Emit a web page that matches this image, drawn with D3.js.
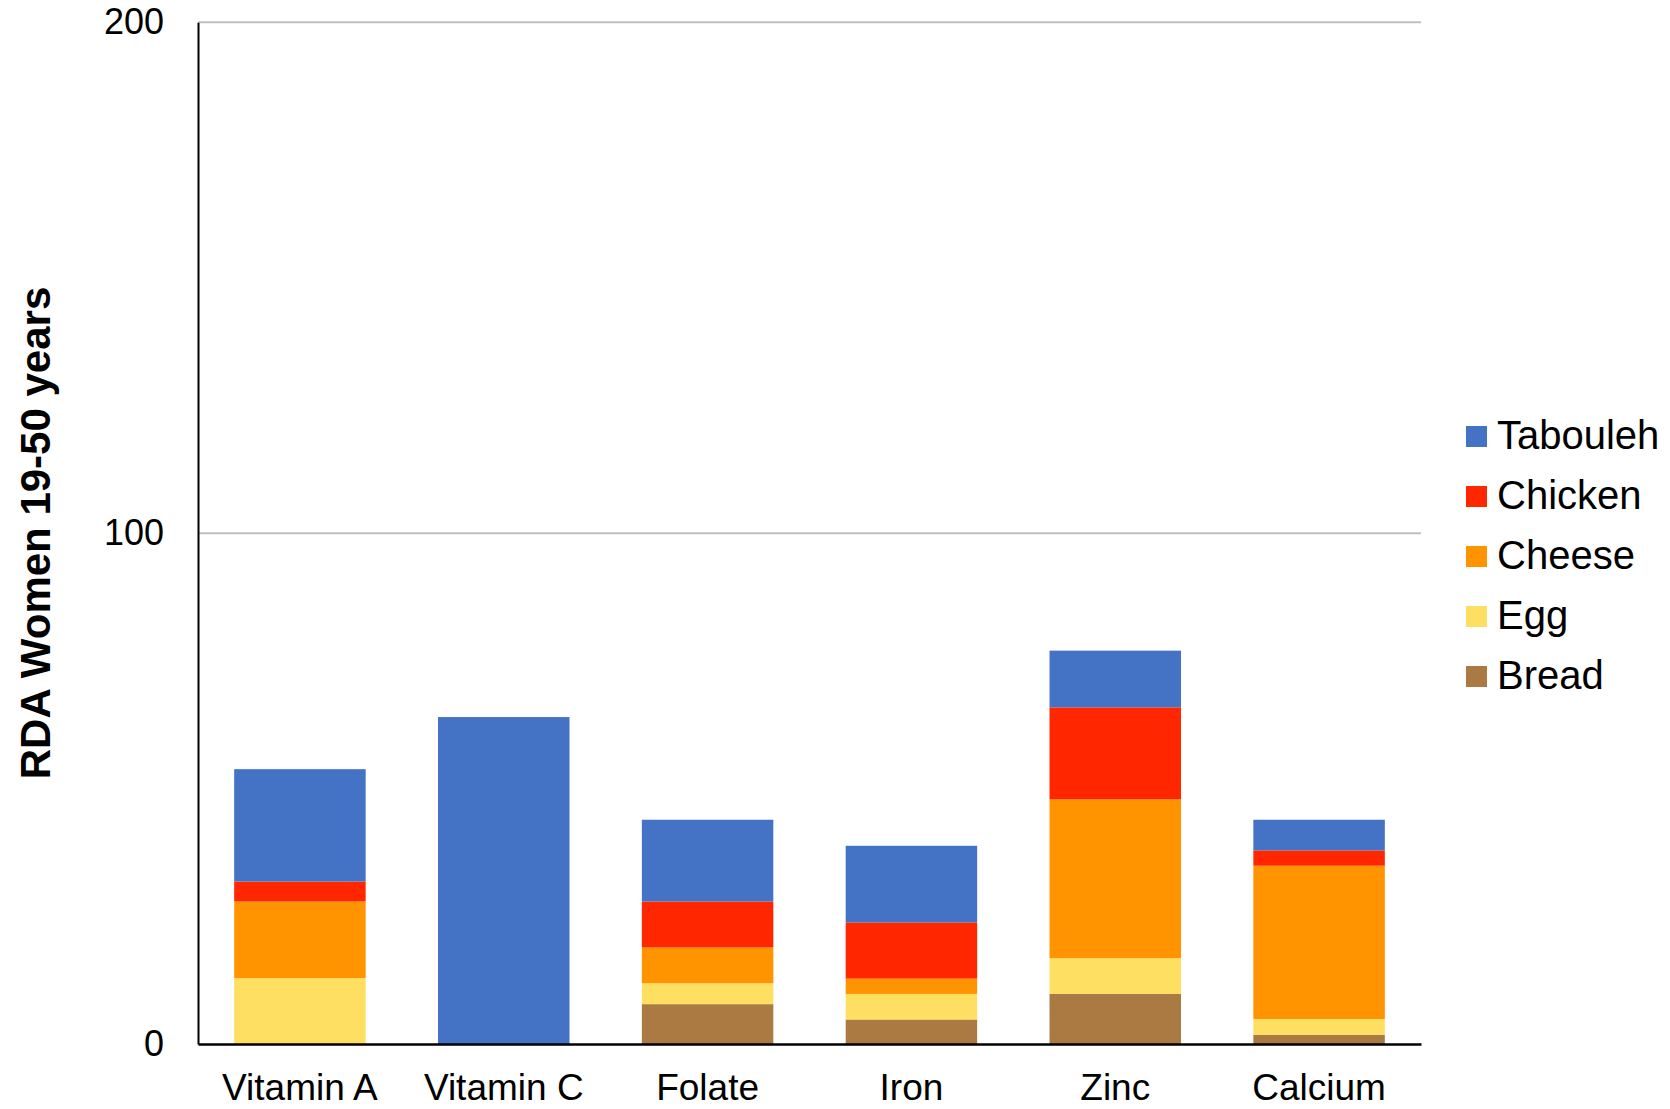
<!DOCTYPE html>
<html>
<head>
<meta charset="utf-8">
<script src="https://cdn.jsdelivr.net/npm/d3@7"></script>
<style>
  html, body { margin: 0; padding: 0; background: #fff; }
  svg { display: block; }
  text { font-family: "Liberation Sans", Arial, sans-serif; fill: #000; }
</style>
</head>
<body>
<svg id="chart" width="1670" height="1109"></svg>
<script>
// Nutrient contribution of each food, % of RDA for women aged 19-50
const categories = ["Vitamin A", "Vitamin C", "Folate", "Iron", "Zinc", "Calcium"];
const bread    = [0,    0,  7.8,  4.8,  9.8,  1.8];
const egg      = [12.9, 0,  4.1,  5.0,  7.0,  3.1];
const cheese   = [15.0, 0,  7.0,  3.0,  31.1, 30.0];
const chicken  = [3.9,  0,  9.0,  11.0, 18.0, 3.0];
const tabouleh = [22.0, 64.0, 16.0, 15.0, 11.1, 6.0];

const yTicks = [0, 100, 200];
const seriesNames = ["Bread", "Egg", "Cheese", "Chicken", "Tabouleh"];
const seriesValues = [bread, egg, cheese, chicken, tabouleh];
const legendOrder = ["Tabouleh", "Chicken", "Cheese", "Egg", "Bread"];
const colors = {
  Tabouleh: "#4472C4",
  Chicken: "#FF2600",
  Cheese: "#FF9300",
  Egg: "#FFDF61",
  Bread: "#AA7A42"
};

const rows = categories.map((c, i) => {
  const r = { category: c };
  seriesNames.forEach((s, k) => { r[s] = seriesValues[k][i]; });
  return r;
});

const svg = d3.select("#chart");
const plot = { left: 198, right: 1421, top: 22.3, bottom: 1044 };

const x = d3.scaleBand()
  .domain(categories)
  .range([plot.left, plot.right])
  .paddingInner(0.355)
  .paddingOuter(0.1775);

const y = d3.scaleLinear()
  .domain([0, 200])
  .range([plot.bottom, plot.top]);

// horizontal gridlines
svg.append("g")
  .selectAll("line")
  .data(yTicks.filter(t => t > 0))
  .join("line")
  .attr("x1", plot.left)
  .attr("x2", plot.right)
  .attr("y1", d => y(d))
  .attr("y2", d => y(d))
  .attr("stroke", "#BFBFBF")
  .attr("stroke-width", 2);

// stacked bars
const stacked = d3.stack().keys(seriesNames)(rows);
svg.append("g")
  .selectAll("g")
  .data(stacked)
  .join("g")
  .attr("fill", d => colors[d.key])
  .selectAll("rect")
  .data(d => d.filter(p => p[1] - p[0] > 0))
  .join("rect")
  .attr("x", d => x(d.data.category))
  .attr("width", x.bandwidth())
  .attr("y", d => y(d[1]))
  .attr("height", d => y(d[0]) - y(d[1]));

// y axis
const yAxis = svg.append("g")
  .attr("transform", `translate(${plot.left},0)`)
  .call(d3.axisLeft(y).tickValues(yTicks).tickSize(0).tickPadding(34));
yAxis.select(".domain").attr("stroke", "#000").attr("stroke-width", 2);
yAxis.selectAll("text")
  .style("font-family", "'Liberation Sans', Arial, sans-serif")
  .style("font-size", "36px")
  .attr("fill", "#000");

// x axis
const xAxis = svg.append("g")
  .attr("transform", `translate(0,${plot.bottom})`)
  .call(d3.axisBottom(x).tickSize(0).tickPadding(30));
xAxis.select(".domain").attr("stroke", "#000").attr("stroke-width", 2.5);
xAxis.selectAll("text")
  .style("font-family", "'Liberation Sans', Arial, sans-serif")
  .style("font-size", "37px")
  .attr("fill", "#000");

// y axis title
svg.append("text")
  .attr("transform", "translate(50,533) rotate(-90)")
  .attr("text-anchor", "middle")
  .style("font-size", "42px")
  .style("font-weight", "bold")
  .text("RDA Women 19-50 years");

// legend
const legend = svg.append("g")
  .selectAll("g")
  .data(legendOrder)
  .join("g")
  .attr("transform", (d, i) => `translate(1466,${435 + i * 60})`);
legend.append("rect")
  .attr("x", 0)
  .attr("y", -9)
  .attr("width", 21)
  .attr("height", 21)
  .attr("fill", d => colors[d]);
legend.append("text")
  .attr("x", 31)
  .attr("y", 0)
  .attr("dy", "0.35em")
  .style("font-size", "40px")
  .text(d => d);
</script>
</body>
</html>
